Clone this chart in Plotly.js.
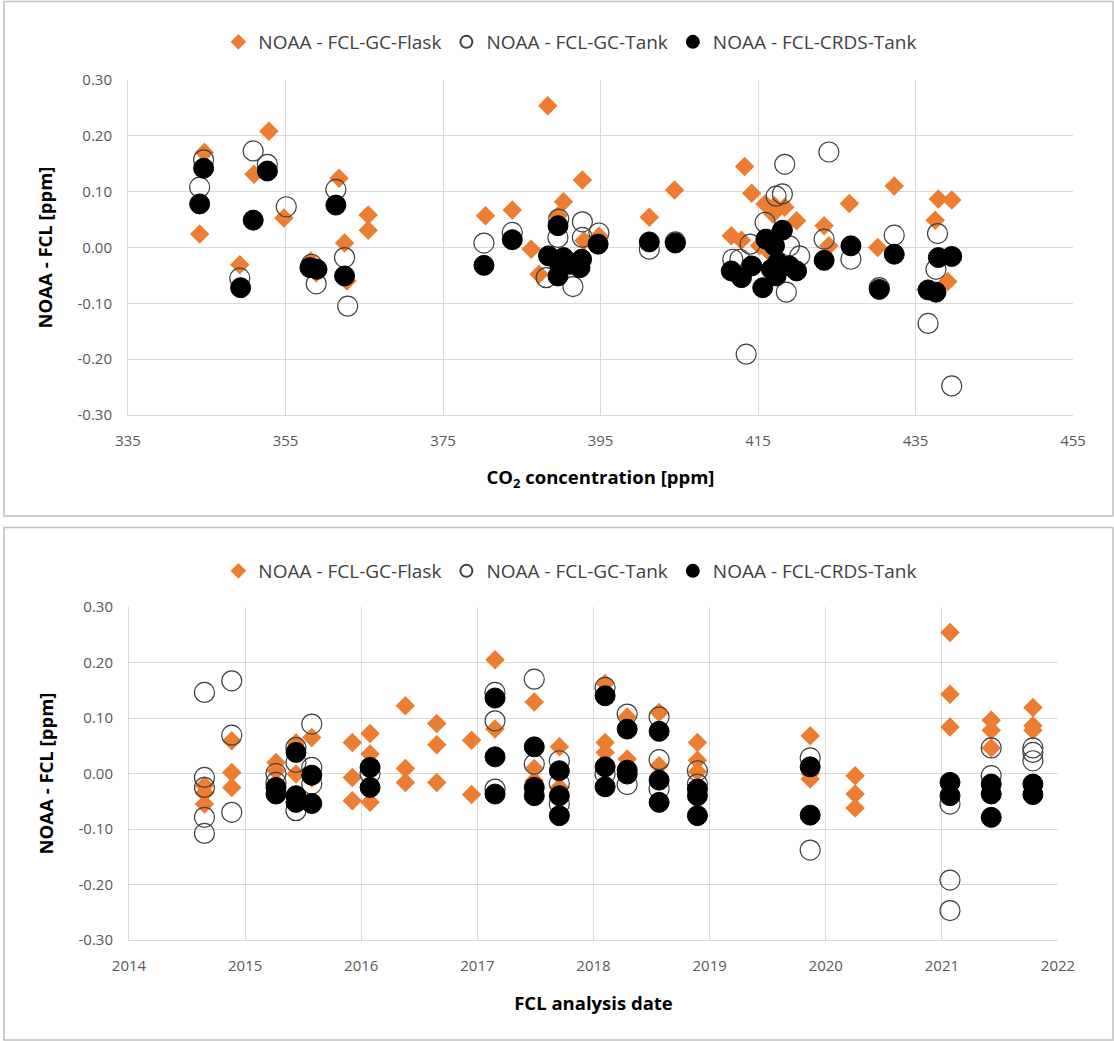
<!DOCTYPE html>
<html>
<head>
<meta charset="utf-8">
<script src="https://cdn.plot.ly/plotly-3.0.1.min.js"></script>
<style>html,body{margin:0;padding:0;background:#fff;}#chart{width:1114px;height:1041px;}</style>
</head>
<body>
<div id="chart"></div>
<script>
// ---- Top panel: difference vs CO2 concentration ----
const co2FlaskX = [352.9,344.7,344.1,351.0,354.8,361.8,365.5,365.5,362.5,362.8,349.2,358.2,358.9,
  388.3,380.4,383.8,386.2,387.2,392.7,390.3,389.6,392.9,394.8,404.4,401.2,
  413.3,414.2,415.9,417.1,418.4,416.9,419.9,432.3,426.6,437.9,439.6,437.5,423.4,424.0,430.2,439.1,436.3,411.6,412.9,415.2,416.5];
const co2FlaskY = [0.208,0.170,0.024,0.131,0.053,0.124,0.058,0.031,0.008,-0.060,-0.031,-0.024,-0.045,
  0.254,0.057,0.067,-0.003,-0.048,0.121,0.082,0.057,0.012,0.020,0.103,0.054,
  0.145,0.097,0.078,0.075,0.072,0.060,0.048,0.110,0.079,0.087,0.085,0.049,0.039,0.003,0.000,-0.061,-0.075,0.021,0.013,0.003,-0.009];

const co2GcTankX = [344.6,344.1,350.9,352.7,349.2,355.1,361.4,362.5,362.9,358.3,358.9,
  380.2,383.8,388.1,389.7,392.7,394.8,392.7,389.6,391.5,401.2,404.5,
  418.4,424.0,417.3,418.1,430.4,437.8,437.6,436.6,439.6,413.5,411.8,412.7,418.6,415.9,420.3,414.0,419.0,423.4,426.8,432.3];
const co2GcTankY = [0.157,0.108,0.173,0.149,-0.055,0.073,0.104,-0.018,-0.105,-0.030,-0.065,
  0.008,0.027,-0.054,0.051,0.046,0.026,0.018,0.018,-0.070,-0.003,0.010,
  0.149,0.171,0.092,0.096,-0.072,0.025,-0.039,-0.136,-0.248,-0.191,-0.021,-0.021,-0.080,0.045,-0.015,0.006,0.003,0.015,-0.021,0.022];

const co2CrdsX = [344.6,344.1,352.7,350.9,349.3,361.4,362.5,358.1,359.0,
  380.2,383.8,389.6,394.7,388.4,390.3,392.6,392.4,389.6,389.8,391.1,401.2,404.5,
  432.3,426.8,423.4,430.4,437.9,439.6,436.6,437.6,411.6,412.9,414.2,415.6,416.0,418.1,417.1,417.5,419.0,419.9,416.7,417.3];
const co2CrdsY = [0.142,0.078,0.137,0.049,-0.072,0.076,-0.051,-0.036,-0.039,
  -0.032,0.014,0.039,0.006,-0.015,-0.018,-0.021,-0.036,-0.051,-0.030,-0.030,0.010,0.008,
  -0.012,0.003,-0.023,-0.075,-0.018,-0.016,-0.076,-0.080,-0.042,-0.054,-0.033,-0.072,0.015,0.031,0.003,-0.027,-0.033,-0.042,-0.039,-0.051];

// ---- Bottom panel: difference vs FCL analysis date (decimal year) ----
const dateFlaskX = [2014.65,2014.65,2014.65,2014.885,2014.885,2014.885,
  2015.266,2015.266,2015.438,2015.438,2015.574,2015.574,2015.923,2015.923,2015.923,
  2016.076,2016.076,2016.076,2016.38,2016.38,2016.38,2016.65,2016.65,2016.65,2016.95,2016.95,
  2017.152,2017.152,2017.49,2017.49,2017.49,2017.706,2017.706,
  2018.10,2018.10,2018.10,2018.29,2018.29,2018.565,2018.565,2018.895,2018.895,2018.895,
  2019.866,2019.866,2019.866,2020.253,2020.253,2020.253,
  2021.07,2021.07,2021.07,2021.425,2021.425,2021.425,2021.784,2021.784,2021.784];
const dateFlaskY = [-0.022,-0.035,-0.055,0.059,0.002,-0.025,
  0.020,0.005,0.055,-0.001,0.065,-0.008,0.056,-0.007,-0.049,
  0.072,0.035,-0.052,0.122,0.009,-0.016,0.090,0.052,-0.016,0.060,-0.038,
  0.205,0.080,0.129,0.009,-0.013,0.048,-0.025,
  0.162,0.056,0.038,0.102,0.026,0.110,0.014,0.056,0.024,0.003,
  0.068,0.000,-0.010,-0.004,-0.037,-0.062,
  0.254,0.143,0.084,0.096,0.078,0.046,0.119,0.086,0.078];

const dateGcTankX = [2014.65,2014.65,2014.65,2014.65,2014.65,2014.885,2014.885,2014.885,
  2015.266,2015.266,2015.438,2015.438,2015.438,2015.574,2015.574,2015.574,2016.076,
  2017.152,2017.152,2017.152,2017.49,2017.49,2017.706,2017.706,2017.706,
  2018.10,2018.10,2018.29,2018.29,2018.565,2018.565,2018.565,2018.895,2018.895,
  2019.866,2019.866,2021.07,2021.07,2021.07,2021.425,2021.425,2021.784,2021.784,2021.784];
const dateGcTankY = [0.146,-0.007,-0.025,-0.079,-0.108,0.167,0.069,-0.070,
  0.000,-0.016,0.047,0.020,-0.067,0.089,0.011,-0.019,0.000,
  0.146,0.095,-0.028,0.170,0.017,0.023,-0.018,-0.055,
  0.155,-0.001,0.107,-0.020,0.102,0.025,-0.028,0.005,-0.019,
  0.028,-0.138,-0.055,-0.192,-0.247,0.046,-0.004,0.046,0.038,0.023];

const dateCrdsX = [2015.266,2015.266,2015.438,2015.438,2015.438,2015.574,2015.574,2016.076,2016.076,
  2017.152,2017.152,2017.152,2017.49,2017.49,2017.49,2017.706,2017.706,2017.706,
  2018.10,2018.10,2018.10,2018.29,2018.29,2018.29,2018.565,2018.565,2018.565,2018.895,2018.895,2018.895,
  2019.866,2019.866,2021.07,2021.07,2021.425,2021.425,2021.425,2021.784,2021.784];
const dateCrdsY = [-0.025,-0.037,0.038,-0.040,-0.052,-0.003,-0.054,0.011,-0.025,
  0.136,0.030,-0.037,0.048,-0.025,-0.040,0.005,-0.040,-0.076,
  0.140,0.012,-0.024,0.080,0.006,-0.001,0.076,-0.012,-0.052,-0.028,-0.040,-0.076,
  0.012,-0.075,-0.016,-0.040,-0.019,-0.037,-0.079,-0.019,-0.038];

const seriesNames = ['NOAA - FCL-GC-Flask','NOAA - FCL-GC-Tank','NOAA - FCL-CRDS-Tank'];
const yTickVals = [-0.3,-0.2,-0.1,0,0.1,0.2,0.3];
const yTickLabels = ['-0.30','-0.20','-0.10','0.00','0.10','0.20','0.30'];
const co2TickVals = [335,355,375,395,415,435,455];
const dateTickVals = [2014,2015,2016,2017,2018,2019,2020,2021,2022];
const dateTickLabels = ['2014','2015','2016','2017','2018','2019','2020','2021','2022'];

const FONT = "'Open Sans', 'Noto Sans', sans-serif";
const ORANGE = '#ED7D31';

const flaskMarker = {symbol:'diamond', size:15, color:ORANGE, line:{width:0}};
const tankMarker = {symbol:'circle', size:20, color:'rgba(255,255,255,0)', line:{color:'#404040', width:1.2}};
const crdsMarker = {symbol:'circle', size:20, color:'#000000', line:{color:'#000000', width:1}};

function mk(x, y, name, marker, xa, ya, leg) {
  return {type:'scatter', mode:'markers', x:x, y:y, name:name, marker:marker,
          xaxis:xa, yaxis:ya, legend:leg, cliponaxis:false, hoverinfo:'x+y'};
}

const data = [
  mk(co2FlaskX, co2FlaskY, seriesNames[0], flaskMarker, 'x', 'y', 'legend'),
  mk(co2GcTankX, co2GcTankY, seriesNames[1], tankMarker, 'x', 'y', 'legend'),
  mk(co2CrdsX, co2CrdsY, seriesNames[2], crdsMarker, 'x', 'y', 'legend'),
  mk(dateFlaskX, dateFlaskY, seriesNames[0], flaskMarker, 'x2', 'y2', 'legend2'),
  mk(dateGcTankX, dateGcTankY, seriesNames[1], tankMarker, 'x2', 'y2', 'legend2'),
  mk(dateCrdsX, dateCrdsY, seriesNames[2], crdsMarker, 'x2', 'y2', 'legend2')
];

const W = 1114, H = 1041;
const px = v => v / W;
const py = v => (H - v) / H;

const tickFont = {family:FONT, size:15, color:'#595959'};
const titleFont = {family:FONT, size:18.5, color:'#000000', weight:'bold'};

const axisCommon = {
  showgrid:true, gridcolor:'#D9D9D9', gridwidth:1,
  zeroline:false, showline:true, linecolor:'#D9D9D9', linewidth:1,
  ticks:'', tickfont:tickFont, mirror:false, fixedrange:true
};

const legendCommon = {
  orientation:'h', xanchor:'center', yanchor:'middle', x:0.512,
  font:{family:FONT, size:19, color:'#404040'}, bgcolor:'rgba(0,0,0,0)',
  itemsizing:'constant', traceorder:'normal', itemclick:false, itemdoubleclick:false,
  itemwidth:30
};

const layout = {
  width:W, height:H,
  margin:{l:0, r:0, t:0, b:0},
  paper_bgcolor:'#ffffff', plot_bgcolor:'#ffffff',
  showlegend:true,
  font:{family:FONT},
  legend: Object.assign({}, legendCommon, {y:py(42)}),
  legend2: Object.assign({}, legendCommon, {y:py(571)}),
  xaxis: Object.assign({}, axisCommon, {
    domain:[px(128), px(1073)], anchor:'y', range:[335,455],
    tickvals:co2TickVals, ticklabelstandoff:12,
    title:{text:'CO<sub>2</sub> concentration [ppm]', font:titleFont, standoff:22}
  }),
  yaxis: Object.assign({}, axisCommon, {
    domain:[py(415), py(80)], anchor:'x', range:[-0.3,0.3],
    tickvals:yTickVals, ticktext:yTickLabels, ticklabelstandoff:12,
    title:{text:'NOAA - FCL [ppm]', font:titleFont, standoff:20}
  }),
  xaxis2: Object.assign({}, axisCommon, {
    domain:[px(129), px(1058)], anchor:'y2', range:[2014,2022],
    tickvals:dateTickVals, ticktext:dateTickLabels, ticklabelstandoff:12,
    title:{text:'FCL analysis date', font:titleFont, standoff:23}
  }),
  yaxis2: Object.assign({}, axisCommon, {
    domain:[py(940), py(607)], anchor:'x2', range:[-0.3,0.3],
    tickvals:yTickVals, ticktext:yTickLabels, ticklabelstandoff:12,
    title:{text:'NOAA - FCL [ppm]', font:titleFont, standoff:20}
  }),
  shapes:[
    {type:'rect', xref:'paper', yref:'paper', x0:px(4), x1:px(1113), y0:py(516), y1:py(1.5),
     line:{color:'#BFBFBF', width:1.5}, fillcolor:'rgba(0,0,0,0)', layer:'below'},
    {type:'rect', xref:'paper', yref:'paper', x0:px(4), x1:px(1113), y0:py(1040), y1:py(527.5),
     line:{color:'#BFBFBF', width:1.5}, fillcolor:'rgba(0,0,0,0)', layer:'below'}
  ]
};

Plotly.newPlot('chart', data, layout, {staticPlot:true, displayModeBar:false});
</script>
</body>
</html>
